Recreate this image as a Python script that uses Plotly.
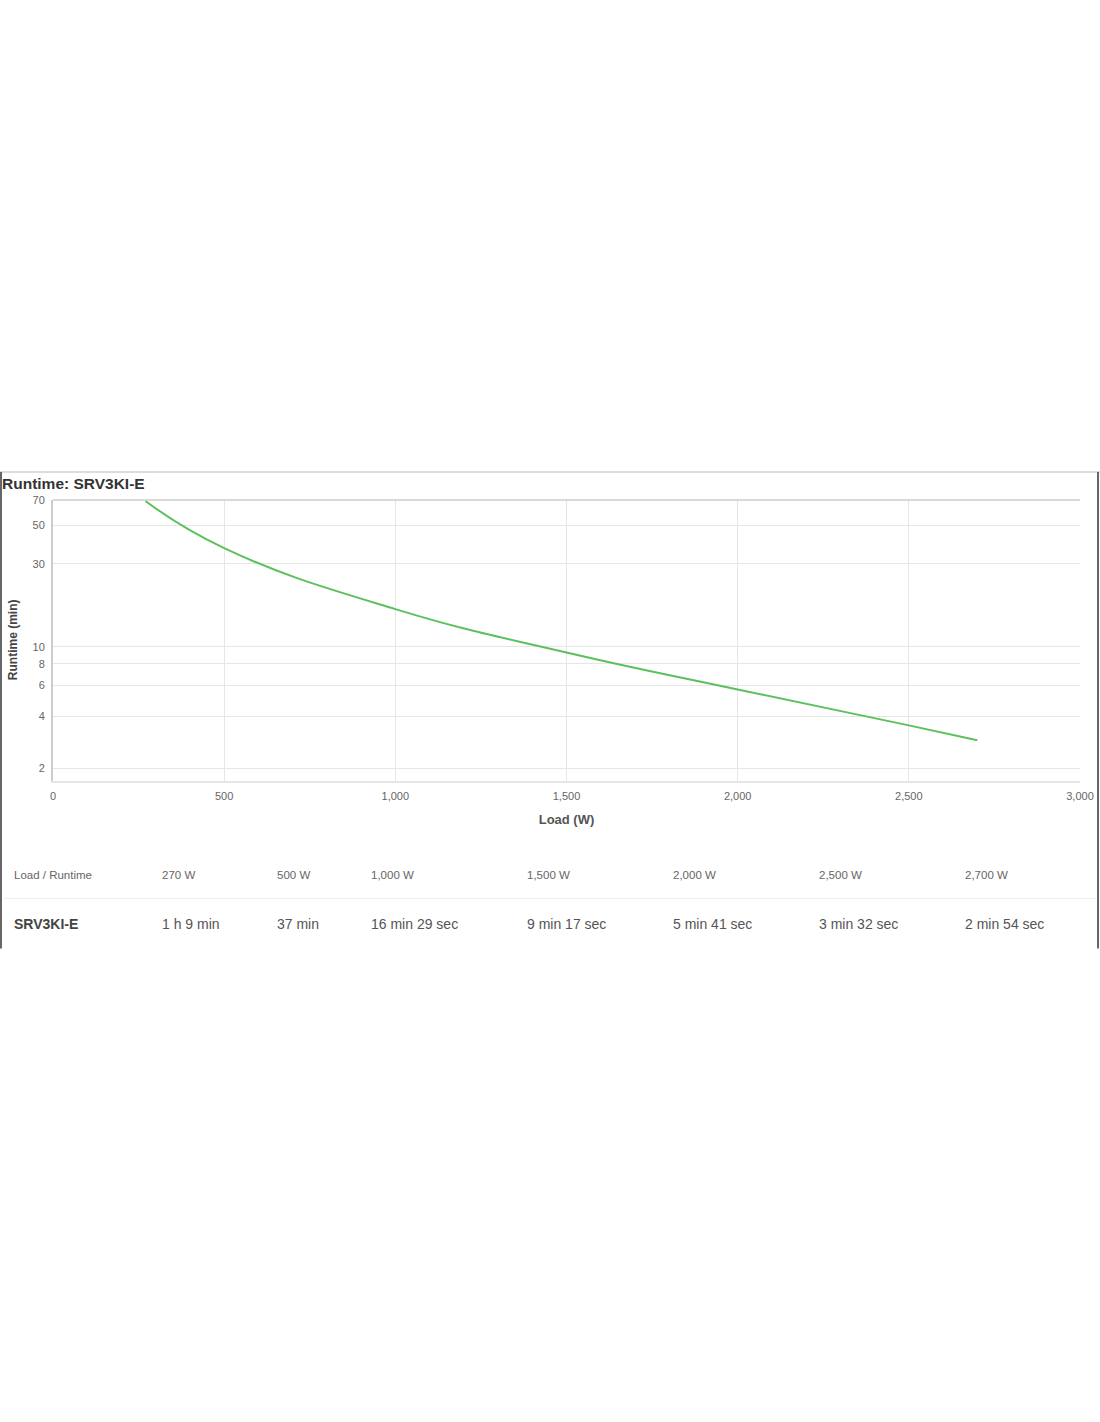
import plotly.graph_objects as go

# ---- data ----
loads_w = [270, 500, 1000, 1500, 2000, 2500, 2700]
runtime_min = [69.0, 37.0, 16.483, 9.283, 5.683, 3.533, 2.9]
load_labels = ["270 W", "500 W", "1,000 W", "1,500 W", "2,000 W", "2,500 W", "2,700 W"]
runtime_labels = ["1 h 9 min", "37 min", "16 min 29 sec", "9 min 17 sec",
                  "5 min 41 sec", "3 min 32 sec", "2 min 54 sec"]
model = "SRV3KI-E"
y_tick_vals = [2, 4, 6, 8, 10, 30, 50, 70]
x_tick_vals = [0, 500, 1000, 1500, 2000, 2500, 3000]

FONT = "Liberation Sans, Arial, sans-serif"
W, H = 1100, 1422
PT, PB = 500, 780.7  # plot area top/bottom in pixels
PL, PR = 53, 1080


def py(p):
    """pixel y -> paper y"""
    return (PB - p) / (PB - PT)


def px(p):
    """pixel x -> paper x"""
    return (p - PL) / (PR - PL)


fig = go.Figure()
fig.add_trace(go.Scatter(
    x=loads_w, y=runtime_min, mode="lines",
    line=dict(color="#5cc05c", width=2, shape="spline", smoothing=1.3),
    hoverinfo="skip", showlegend=False,
))

fig.update_layout(
    width=W, height=H, autosize=False,
    margin=dict(l=PL, r=W - PR, t=PT, b=H - PB, autoexpand=False),
    paper_bgcolor="white", plot_bgcolor="white",
    font=dict(family=FONT, color="#666"),
    xaxis=dict(
        range=[0, 3000], tickvals=x_tick_vals, tickformat=",", automargin=False,
        showgrid=True, gridcolor="#e6e6e6", gridwidth=1, zeroline=False,
        showline=True, linecolor="#e6e6e6", linewidth=2,
        ticks="outside", ticklen=4, tickcolor="rgba(0,0,0,0)",
        tickfont=dict(size=11, color="#666"),
        title=dict(text="<b>Load (W)</b>", font=dict(size=13, color="#555"), standoff=14),
    ),
    yaxis=dict(
        type="log", range=[0.228, 1.845], tickvals=y_tick_vals, automargin=False,
        ticktext=[str(v) for v in y_tick_vals],
        showgrid=True, gridcolor="#e6e6e6", gridwidth=1, zeroline=False,
        showline=True, linecolor="#cccccc", linewidth=2,
        ticks="outside", ticklen=4, tickcolor="rgba(0,0,0,0)",
        tickfont=dict(size=11, color="#666"),
    ),
)

shapes = []
# top border of plot area
shapes.append(dict(type="line", xref="paper", yref="paper", x0=0, x1=1, y0=1, y1=1,
                    line=dict(color="#cccccc", width=1.5)))
# outer frame
shapes.append(dict(type="line", xref="paper", yref="paper", x0=px(0), x1=px(1100),
                    y0=py(472), y1=py(472), line=dict(color="#dddddd", width=2)))
shapes.append(dict(type="line", xref="paper", yref="paper", x0=px(1), x1=px(1),
                    y0=py(472), y1=py(948), line=dict(color="#666666", width=2)))
shapes.append(dict(type="line", xref="paper", yref="paper", x0=px(1098), x1=px(1098),
                    y0=py(472), y1=py(948), line=dict(color="#666666", width=2)))
# table separator
shapes.append(dict(type="line", xref="paper", yref="paper", x0=px(4), x1=px(1096),
                    y0=py(898), y1=py(898), line=dict(color="#eeeeee", width=1)))
fig.update_layout(shapes=shapes)

ann = []
ann.append(dict(text="<b>Runtime: " + model + "</b>", xref="paper", yref="paper",
                x=px(0), y=py(484), xanchor="left", yanchor="middle", showarrow=False,
                font=dict(size=15.5, color="#333", family=FONT)))
ann.append(dict(text="<b>Runtime (min)</b>", xref="paper", yref="paper",
                x=px(13), y=py(640), xanchor="center", yanchor="middle", showarrow=False,
                textangle=-90, font=dict(size=12, color="#444", family=FONT)))
col_x = [160, 275, 369, 525, 671, 817, 963]
ann.append(dict(text="Load / Runtime", xref="paper", yref="paper", x=px(12), y=py(875),
                xanchor="left", yanchor="middle", showarrow=False,
                font=dict(size=11.5, color="#666", family=FONT)))
ann.append(dict(text="<b>" + model + "</b>", xref="paper", yref="paper", x=px(12), y=py(924),
                xanchor="left", yanchor="middle", showarrow=False,
                font=dict(size=14, color="#444", family=FONT)))
for cx, lt, rt in zip(col_x, load_labels, runtime_labels):
    ann.append(dict(text=lt, xref="paper", yref="paper", x=px(cx), y=py(875),
                    xanchor="left", yanchor="middle", showarrow=False,
                    font=dict(size=11.5, color="#666", family=FONT)))
    ann.append(dict(text=rt, xref="paper", yref="paper", x=px(cx), y=py(924),
                    xanchor="left", yanchor="middle", showarrow=False,
                    font=dict(size=14, color="#555", family=FONT)))
fig.update_layout(annotations=ann)

fig.write_html("out.html", config={"displayModeBar": False, "responsive": False},
               post_script="document.body.style.margin='0';document.body.style.overflow='hidden';")
